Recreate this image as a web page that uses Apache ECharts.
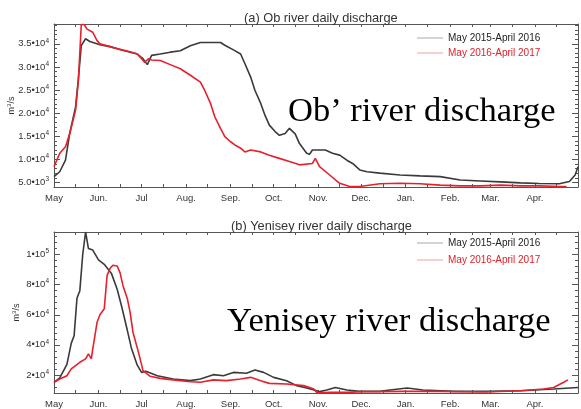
<!DOCTYPE html>
<html><head><meta charset="utf-8">
<script src="https://cdn.jsdelivr.net/npm/echarts@6/dist/echarts.min.js"></script>
<style>html,body{margin:0;padding:0;background:#fff}#c{width:581px;height:409px}</style>
</head><body><div id="c"></div>
<script>
// ---- Data (day index since May 1) ----
const monthLabels = ['May','Jun.','Jul','Aug.','Sep.','Oct.','Nov.','Dec.','Jan.','Feb.','Mar.','Apr.'];
const monthStarts = [0,31,61,92,123,153,184,214,245,276,304,335];
const midMonths = [15,46,76,107,138,168,199,229,260,291,319,350];

const obTicks = [5000,10000,15000,20000,25000,30000,35000];
const yeTicks = [20000,40000,60000,80000,100000];

const seriesNames = ['May 2015-April 2016','May 2016-April 2017'];

const ob1Days = [0,4,8,11,15,17,19,22,25,32,39,46,53,58,62,65,68,74,81,88,95,102,109,116,119,125,130,133,137,140,144,147,150,154,157,161,164,168,171,176,178,180,185,189,194,199,204,208,213,218,227,241,255,269,283,297,311,325,338,352,359,363,365];
const ob1Vals = [6250,7300,9800,15700,21300,27500,34600,36100,35500,34800,34400,33800,33200,32800,31800,30500,32500,32800,33200,33500,34600,35300,35300,35300,34700,33700,32800,30700,27800,24900,22100,19500,17400,16000,15200,15600,16700,15500,13400,11300,11100,12000,12000,12000,11300,10900,9800,9100,7700,7300,7000,6600,6400,6250,5500,5300,5100,4900,4750,4700,5200,6600,8400];

const ob2Days = [0,4,8,11,15,17,19,21,23,27,30,32,39,46,53,58,61,63,66,68,74,81,88,95,102,105,109,112,116,119,123,126,130,133,137,144,150,157,164,171,180,182,185,192,199,206,213,227,241,255,269,283,297,311,325,338,352,357];
const ob2Vals = [8400,11300,12700,15600,20600,27100,39200,39200,38200,37500,35700,35000,34400,33800,33300,32800,31800,31000,31800,31500,31400,30500,29600,28200,26700,24900,22100,19200,16700,14900,13800,13100,12400,11600,12000,11600,10900,10200,9500,8800,9100,10200,8400,6600,4800,4100,4100,4700,4800,4700,4400,4250,4250,4400,4250,4250,4100,4100];

const ye1Days = [0,4,9,12,14,16,18,20,22,24,27,31,35,40,44,47,51,54,58,61,64,72,83,95,102,111,118,125,134,140,146,153,162,169,176,183,185,190,196,204,213,227,234,246,257,278,301,325,348,365];
const ye1Vals = [15100,18000,27000,41000,46000,71000,76000,100000,115000,104000,103000,96500,93500,87500,77000,66000,50000,37500,26500,21700,22500,19500,17300,16200,17300,20200,19500,21700,21100,23300,21700,18400,16200,12900,11300,9500,8900,10000,11700,10000,9100,9100,10000,11300,10000,9100,9100,9500,10700,11700];

const ye2Days = [0,4,9,12,15,18,22,24,26,27,30,32,35,37,39,41,44,46,48,51,53,55,59,62,67,74,83,95,102,111,120,130,137,144,150,162,174,181,183,185,192,204,215,227,243,267,301,325,341,348,355,358];
const ye2Vals = [15100,17300,19500,24000,26200,28400,30700,34000,30700,37300,55000,60000,64000,86200,90700,92900,92400,88000,79500,71000,61700,48400,34500,22900,19100,17700,16700,15500,15100,16700,16200,17300,18400,16200,14400,14000,12900,10700,8400,8100,8400,8400,8900,8900,9100,9100,8700,9500,10700,11700,15100,16700];

// ---- helpers ----
const pairs = (d, v) => d.map((x, i) => [x, v[i]]);
const FONT = '"Liberation Sans", Arial, sans-serif';
const AX = '#555';
const TXT = '#333';

function obLabel(v) {
  if (v === 5000) return '{m|5.0•10}{e|3}';
  return '{m|' + (v / 10000).toFixed(1) + '•10}{e|4}';
}
function yeLabel(v) {
  if (v === 100000) return '{m|1•10}{e|5}';
  return '{m|' + (v / 10000) + '•10}{e|4}';
}
const rich = {
  m: {fontSize: 9.5, color: TXT, fontFamily: FONT},
  e: {fontSize: 6.5, color: TXT, fontFamily: FONT, verticalAlign: 'top', padding: [0, 0, 6, 0]}
};

function xAxes(gi) {
  return [
    {gridIndex: gi, type: 'value', position: 'bottom', min: 0, max: 365,
     axisLine: {show: true, lineStyle: {color: AX, width: 1}},
     splitLine: {show: false},
     axisTick: {show: true, inside: true, length: 3, lineStyle: {color: AX},
                customValues: monthStarts.concat(midMonths)},
     axisLabel: {show: true, customValues: monthStarts, margin: 6,
                 fontSize: 9.5, color: TXT, fontFamily: FONT,
                 formatter: v => monthLabels[monthStarts.indexOf(v)]}},
    {gridIndex: gi, type: 'value', position: 'top', min: 0, max: 365,
     axisLine: {show: true, lineStyle: {color: AX, width: 1}},
     splitLine: {show: false},
     axisTick: {show: true, inside: true, length: 3, lineStyle: {color: AX},
                customValues: monthStarts.concat(midMonths)},
     axisLabel: {show: false}}
  ];
}
function yAxes(gi, min, max, minor, majors, fmt, name, gap) {
  const base = {gridIndex: gi, type: 'value', min: min, max: max, splitLine: {show: false}};
  return [
    Object.assign({}, base, {position: 'left', name: name, nameLocation: 'middle', nameGap: gap,
      nameMoveOverlap: false,
      nameTextStyle: {fontSize: 9, color: TXT, fontFamily: FONT, rich: {
        n: {fontSize: 9, color: TXT, fontFamily: FONT},
        s: {fontSize: 6, color: TXT, fontFamily: FONT, verticalAlign: 'top', padding: [0,0,6,0]}}},
      axisLine: {show: true, lineStyle: {color: AX, width: 1}},
      axisTick: {show: true, inside: true, length: 6, lineStyle: {color: AX}, customValues: majors},
      axisLabel: {show: true, customValues: majors, margin: 5, formatter: fmt, rich: rich}}),
    Object.assign({}, base, {position: 'left', interval: minor,
      axisLine: {show: false}, axisLabel: {show: false},
      axisTick: {show: true, inside: true, length: 3, lineStyle: {color: AX}}}),
    Object.assign({}, base, {position: 'right',
      axisLine: {show: true, lineStyle: {color: AX, width: 1}},
      axisTick: {show: true, inside: true, length: 6, lineStyle: {color: AX}, customValues: majors},
      axisLabel: {show: false}}),
    Object.assign({}, base, {position: 'right', interval: minor,
      axisLine: {show: false}, axisLabel: {show: false},
      axisTick: {show: true, inside: true, length: 3, lineStyle: {color: AX}}})
  ];
}
function legend(top, gap) {
  return {
    left: 417, top: top, orient: 'vertical', itemGap: gap, padding: 0,
    itemWidth: 26, itemHeight: 1, icon: 'rect',
    textStyle: {fontSize: 10, fontFamily: FONT, padding: [0,0,0,0]},
    selectedMode: false,
    data: [
      {name: seriesNames[0], itemStyle: {color: '#a8a8a8'}, textStyle: {color: '#222'}},
      {name: seriesNames[1], itemStyle: {color: '#f2a0a4'}, textStyle: {color: '#e0202a'}}
    ]
  };
}
const lineS = (name, xi, yi, data, color) => ({
  name: name, type: 'line', xAxisIndex: xi, yAxisIndex: yi, data: data,
  showSymbol: false, symbol: 'none', smooth: false, animation: false,
  lineStyle: {color: color, width: 1.6}, itemStyle: {color: color}
});

const option = {
  animation: false,
  backgroundColor: '#fff',
  title: [
    {text: '(a) Ob river daily discharge', left: 239, top: 7,
     textStyle: {fontSize: 12.8, fontWeight: 'normal', color: TXT, fontFamily: FONT}},
    {text: '(b) Yenisey river daily discharge', left: 226, top: 215,
     textStyle: {fontSize: 12.8, fontWeight: 'normal', color: TXT, fontFamily: FONT}}
  ],
  grid: [
    {left: 54, top: 24, width: 524, height: 163, containLabel: false, outerBoundsMode: 'none'},
    {left: 54, top: 232, width: 524, height: 161, containLabel: false, outerBoundsMode: 'none'}
  ],
  legend: [legend(33, 5), legend(238, 7)],
  xAxis: xAxes(0).concat(xAxes(1)),
  yAxis: yAxes(0, 4000, 39300, 1000, obTicks, obLabel, '{n|m}{s|3}{n|/s}', 36)
    .concat(yAxes(1, 8000, 115000, 4000, yeTicks, yeLabel, '{n|m}{s|3}{n|/s}', 31)),
  series: [
    lineS(seriesNames[0], 0, 0, pairs(ob1Days, ob1Vals), '#3a3a3a'),
    lineS(seriesNames[1], 0, 0, pairs(ob2Days, ob2Vals), '#e8202a'),
    lineS(seriesNames[0], 2, 4, pairs(ye1Days, ye1Vals), '#3a3a3a'),
    lineS(seriesNames[1], 2, 4, pairs(ye2Days, ye2Vals), '#e8202a')
  ],
  graphic: [
    {type: 'text', z: 100, style: {text: 'Ob\u2019 river discharge', x: 288, y: 112,
      font: '34.5px "Liberation Serif", "Times New Roman", serif', fill: '#000', verticalAlign: 'middle'}},
    {type: 'text', z: 100, style: {text: 'Yenisey river discharge', x: 227, y: 322,
      font: '34.5px "Liberation Serif", "Times New Roman", serif', fill: '#000', verticalAlign: 'middle'}}
  ]
};
const chart = echarts.init(document.getElementById('c'), null, {renderer: 'canvas'});
chart.setOption(option);
</script></body></html>
